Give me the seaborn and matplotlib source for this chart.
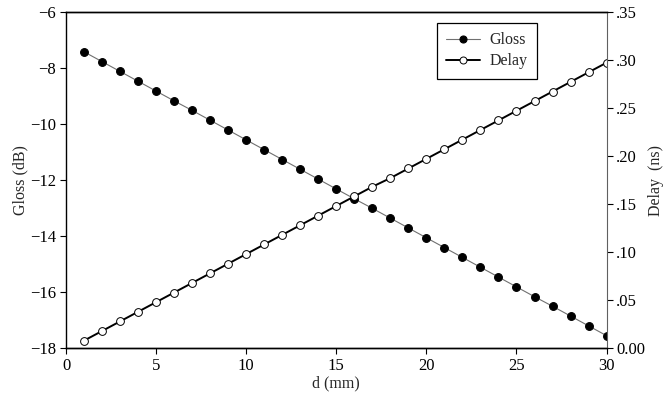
import matplotlib
matplotlib.use("Agg")
import matplotlib.pyplot as plt
import seaborn as sns
import pandas as pd

d_mm = list(range(1, 31))
gloss_db = [-7.43, -7.78, -8.13, -8.48, -8.83, -9.18, -9.52, -9.87, -10.22, -10.57,
            -10.92, -11.27, -11.62, -11.97, -12.32, -12.67, -13.01, -13.36, -13.71, -14.06,
            -14.41, -14.76, -15.11, -15.46, -15.81, -16.16, -16.50, -16.85, -17.20, -17.55]
delay_ns = [0.008, 0.018, 0.028, 0.038, 0.048, 0.058, 0.068, 0.078, 0.088, 0.098,
            0.108, 0.118, 0.128, 0.138, 0.148, 0.158, 0.168, 0.177, 0.187, 0.197,
            0.207, 0.217, 0.227, 0.237, 0.247, 0.257, 0.267, 0.277, 0.287, 0.297]
left_ticks = [-6, -8, -10, -12, -14, -16, -18]
right_ticks = [0.00, 0.05, 0.10, 0.15, 0.20, 0.25, 0.30, 0.35]
right_labels = ["0.00", ".05", ".10", ".15", ".20", ".25", ".30", ".35"]
x_ticks = [0, 5, 10, 15, 20, 25, 30]

sns.set_theme(style="white")
plt.rcParams['font.family'] = ['Liberation Serif', 'DejaVu Serif']
plt.rcParams['font.size'] = 11.5

df = pd.DataFrame({"d": d_mm, "Gloss": gloss_db, "Delay": delay_ns})

fig = plt.figure(figsize=(6.71, 4.01), dpi=100)
ax = fig.add_axes([0.0984, 0.1314, 0.8056, 0.8394])
ax2 = ax.twinx()

sns.lineplot(data=df, x="d", y="Gloss", ax=ax, color="#707070", linewidth=0.8,
             marker="o", markersize=5.6, markerfacecolor="black",
             markeredgecolor="black", markeredgewidth=0.8, label="Gloss", legend=False)
sns.lineplot(data=df, x="d", y="Delay", ax=ax2, color="black", linewidth=1.4,
             marker="o", markersize=5.6, markerfacecolor="white",
             markeredgecolor="black", markeredgewidth=0.7, label="Delay", legend=False)

ax.set_xlim(0, 30)
ax.set_ylim(-18, -6)
ax2.set_ylim(0, 0.35)
ax.set_xticks(x_ticks)
ax.set_yticks(left_ticks)
ax2.set_yticks(right_ticks)
ax2.set_yticklabels(right_labels)

ax.set_xlabel("d (mm)", fontsize=11.5, labelpad=1)
ax.set_ylabel("Gloss (dB)", fontsize=11.5, labelpad=1)
ax2.set_ylabel("Delay  (ns)", fontsize=11.5, labelpad=2)

for a in (ax, ax2):
    a.tick_params(direction="out", length=4.5, width=0.8, colors="black", labelsize=12, pad=2.5)
    a.grid(False)
ax.tick_params(axis="x", bottom=True)
ax.tick_params(axis="y", left=True)
ax2.tick_params(axis="y", right=True)

for a in (ax, ax2):
    for s in a.spines.values():
        s.set_color("black")
        s.set_linewidth(1.0)
ax2.spines["right"].set_color("#606060")
ax2.spines["right"].set_linewidth(0.8)
ax.spines["right"].set_visible(False)
ax2.spines["left"].set_visible(False)

h1, l1 = ax.get_legend_handles_labels()
h2, l2 = ax2.get_legend_handles_labels()
leg = ax2.legend(h1 + h2, l1 + l2, loc="upper left", bbox_to_anchor=(0.651, 0.943),
                 bbox_transform=fig.transFigure, frameon=True, fancybox=False,
                 edgecolor="black", framealpha=1, borderaxespad=0, handlelength=2.1,
                 handletextpad=0.6, borderpad=0.6, labelspacing=0.3, fontsize=11.5,
                 markerscale=0.9)
leg.get_frame().set_linewidth(0.9)

fig.savefig("out.png", dpi=100)
